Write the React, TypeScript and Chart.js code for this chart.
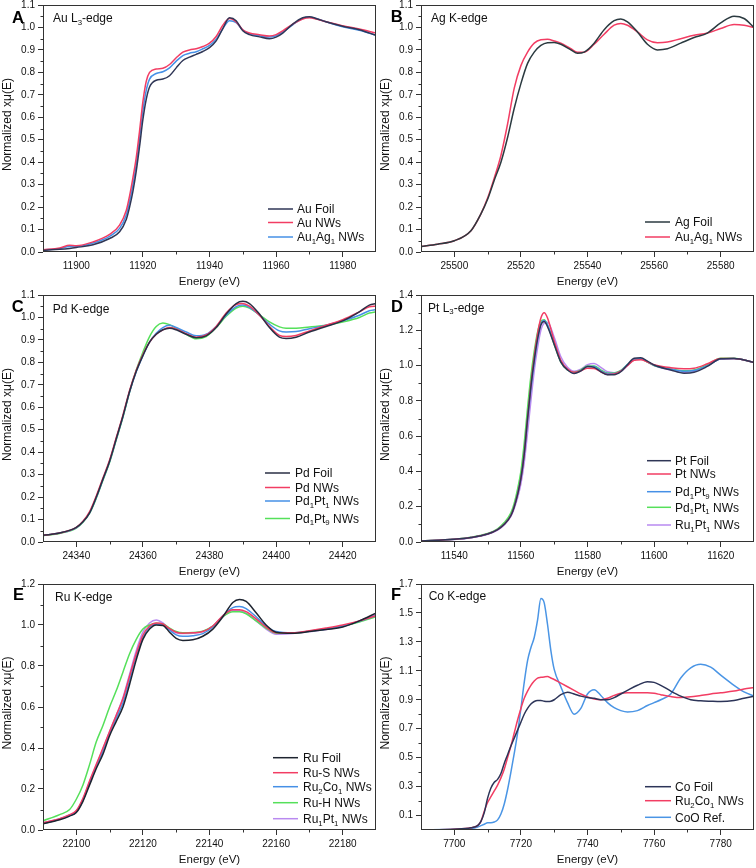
import React, { useEffect, useRef } from 'react';
import { Chart, registerables } from 'chart.js';

Chart.register(...registerables);

const FONT = '"Liberation Sans", Arial, Helvetica, sans-serif';

// ---------------- Panel A: Au L3-edge ----------------
const auEnergy = [11890, 11895, 11898, 11900, 11905, 11910, 11913, 11915, 11916, 11917, 11918, 11919, 11920, 11921, 11922, 11924, 11926, 11928, 11930, 11932, 11934, 11936, 11938, 11940, 11942, 11944, 11946, 11948, 11950, 11952, 11955, 11958, 11960, 11962, 11965, 11968, 11970, 11972, 11975, 11980, 11985, 11990];
const auFoil = [0.008, 0.012, 0.016, 0.02, 0.032, 0.06, 0.09, 0.145, 0.2, 0.27, 0.36, 0.47, 0.59, 0.68, 0.735, 0.765, 0.77, 0.785, 0.82, 0.853, 0.868, 0.88, 0.893, 0.91, 0.94, 0.995, 1.043, 1.03, 0.985, 0.968, 0.958, 0.95, 0.957, 0.975, 1.015, 1.043, 1.048, 1.04, 1.025, 1.005, 0.99, 0.965];
const auNWs = [0.01, 0.018, 0.03, 0.028, 0.045, 0.078, 0.12, 0.185, 0.25, 0.33, 0.42, 0.54, 0.67, 0.76, 0.8, 0.815, 0.818, 0.835, 0.865, 0.89, 0.9, 0.905, 0.915, 0.93, 0.96, 1.01, 1.04, 1.025, 0.99, 0.975, 0.968, 0.962, 0.968, 0.985, 1.015, 1.038, 1.043, 1.038, 1.025, 1.008, 0.993, 0.975];
const au1Ag1L3 = [0.009, 0.015, 0.025, 0.025, 0.04, 0.07, 0.105, 0.165, 0.225, 0.3, 0.39, 0.51, 0.63, 0.72, 0.77, 0.795, 0.803, 0.82, 0.85, 0.875, 0.885, 0.892, 0.905, 0.92, 0.948, 0.995, 1.03, 1.022, 0.988, 0.972, 0.963, 0.957, 0.963, 0.98, 1.012, 1.04, 1.045, 1.04, 1.025, 1.003, 0.988, 0.965];
const auXTicks = [11900, 11920, 11940, 11960, 11980];

// ---------------- Panel B: Ag K-edge ----------------
const agEnergy = [25490, 25495, 25500, 25505, 25508, 25510, 25512, 25514, 25516, 25518, 25520, 25522, 25524, 25526, 25528, 25530, 25532, 25535, 25537, 25539, 25542, 25545, 25548, 25550, 25552, 25555, 25558, 25561, 25564, 25568, 25572, 25576, 25580, 25584, 25587, 25590];
const agFoil = [0.025, 0.035, 0.05, 0.095, 0.17, 0.235, 0.32, 0.4, 0.51, 0.64, 0.75, 0.84, 0.89, 0.92, 0.932, 0.933, 0.925, 0.9, 0.885, 0.89, 0.93, 0.99, 1.03, 1.038, 1.025, 0.98, 0.925, 0.9, 0.905, 0.93, 0.955, 0.975, 1.02, 1.05, 1.04, 1.0];
const au1Ag1K = [0.025, 0.035, 0.05, 0.095, 0.17, 0.24, 0.33, 0.43, 0.57, 0.73, 0.83, 0.89, 0.93, 0.945, 0.947, 0.94, 0.93, 0.905, 0.89, 0.89, 0.925, 0.97, 1.01, 1.018, 1.01, 0.98, 0.945, 0.932, 0.935, 0.95, 0.965, 0.975, 0.995, 1.013, 1.01, 1.0];
const agXTicks = [25500, 25520, 25540, 25560, 25580];

// ---------------- Panel C: Pd K-edge ----------------
const pdEnergy = [24330, 24335, 24340, 24342, 24344, 24346, 24348, 24350, 24352, 24354, 24356, 24358, 24360, 24362, 24364, 24366, 24368, 24370, 24373, 24376, 24379, 24382, 24385, 24388, 24390, 24392, 24395, 24398, 24401, 24403, 24406, 24410, 24415, 24420, 24425, 24428, 24430];
const pdFoil = [0.03, 0.04, 0.065, 0.09, 0.13, 0.2, 0.28, 0.36, 0.46, 0.56, 0.67, 0.76, 0.83, 0.89, 0.925, 0.945, 0.952, 0.945, 0.925, 0.91, 0.918, 0.955, 1.015, 1.062, 1.072, 1.062, 1.015, 0.955, 0.912, 0.906, 0.912, 0.935, 0.96, 0.985, 1.025, 1.055, 1.062];
const pdNWs = [0.03, 0.04, 0.065, 0.092, 0.135, 0.205, 0.285, 0.365, 0.465, 0.565, 0.675, 0.765, 0.835, 0.89, 0.925, 0.945, 0.955, 0.948, 0.928, 0.912, 0.922, 0.96, 1.02, 1.058, 1.062, 1.05, 1.01, 0.96, 0.92, 0.915, 0.92, 0.94, 0.965, 0.99, 1.025, 1.048, 1.05];
const pd1Pt1Pd = [0.03, 0.04, 0.063, 0.09, 0.13, 0.198, 0.278, 0.358, 0.458, 0.558, 0.668, 0.758, 0.83, 0.89, 0.93, 0.955, 0.965, 0.955, 0.935, 0.918, 0.925, 0.96, 1.01, 1.048, 1.055, 1.045, 1.01, 0.97, 0.94, 0.935, 0.937, 0.95, 0.965, 0.985, 1.01, 1.03, 1.035];
const pd1Pt9Pd = [0.028, 0.038, 0.062, 0.088, 0.128, 0.195, 0.275, 0.355, 0.455, 0.555, 0.668, 0.765, 0.845, 0.915, 0.96, 0.975, 0.968, 0.952, 0.925, 0.905, 0.915, 0.955, 1.005, 1.042, 1.05, 1.042, 1.012, 0.98, 0.958, 0.952, 0.952, 0.958, 0.965, 0.98, 1.0, 1.02, 1.025];
const pdXTicks = [24340, 24360, 24380, 24400, 24420];

// ---------------- Panel D: Pt L3-edge ----------------
const ptEnergy = [11530, 11540, 11545, 11550, 11553, 11555, 11557, 11558, 11559, 11560, 11561, 11562, 11563, 11564, 11565, 11566, 11567, 11568, 11570, 11572, 11574, 11576, 11578, 11580, 11582, 11584, 11586, 11588, 11590, 11592, 11594, 11596, 11598, 11600, 11605, 11609, 11612, 11616, 11620, 11624, 11630];
const ptFoil = [0.005, 0.015, 0.025, 0.045, 0.07, 0.1, 0.15, 0.2, 0.27, 0.36, 0.5, 0.7, 0.88, 1.03, 1.15, 1.23, 1.25, 1.22, 1.12, 1.02, 0.975, 0.955, 0.97, 0.995, 0.99, 0.965, 0.948, 0.948, 0.965, 1.005, 1.042, 1.045, 1.025, 1.003, 0.975, 0.957, 0.962, 0.995, 1.038, 1.04, 1.018];
const ptNWs = [0.005, 0.015, 0.025, 0.045, 0.07, 0.1, 0.15, 0.2, 0.27, 0.36, 0.5, 0.7, 0.89, 1.05, 1.18, 1.27, 1.3, 1.27, 1.14, 1.03, 0.98, 0.962, 0.97, 0.985, 0.983, 0.965, 0.95, 0.952, 0.968, 1.0, 1.03, 1.033, 1.02, 1.005, 0.988, 0.982, 0.985, 1.01, 1.04, 1.04, 1.018];
const pd1Pt9Pt = [0.005, 0.015, 0.025, 0.045, 0.07, 0.1, 0.15, 0.2, 0.27, 0.36, 0.5, 0.69, 0.87, 1.02, 1.15, 1.235, 1.255, 1.23, 1.13, 1.025, 0.978, 0.96, 0.97, 0.995, 0.995, 0.97, 0.955, 0.955, 0.97, 1.005, 1.035, 1.04, 1.022, 1.002, 0.98, 0.968, 0.972, 1.0, 1.037, 1.04, 1.018];
const pd1Pt1Pt = [0.006, 0.016, 0.027, 0.048, 0.075, 0.11, 0.165, 0.22, 0.3, 0.4, 0.56, 0.76, 0.94, 1.08, 1.19, 1.25, 1.26, 1.23, 1.12, 1.02, 0.975, 0.962, 0.975, 0.998, 0.998, 0.975, 0.958, 0.958, 0.972, 1.005, 1.033, 1.038, 1.02, 1.0, 0.98, 0.97, 0.975, 1.005, 1.042, 1.042, 1.018];
const ru1Pt1Pt = [0.005, 0.014, 0.024, 0.044, 0.068, 0.097, 0.145, 0.19, 0.25, 0.33, 0.45, 0.62, 0.8, 0.97, 1.1, 1.2, 1.24, 1.245, 1.16, 1.05, 0.99, 0.968, 0.98, 1.005, 1.012, 0.99, 0.965, 0.96, 0.968, 1.0, 1.032, 1.037, 1.02, 1.0, 0.975, 0.962, 0.968, 1.0, 1.037, 1.04, 1.018];
const ptXTicks = [11540, 11560, 11580, 11600, 11620];

// ---------------- Panel E: Ru K-edge ----------------
const ruEnergy = [22090, 22095, 22098, 22100, 22102, 22104, 22106, 22108, 22110, 22112, 22114, 22116, 22118, 22120, 22122, 22124, 22126, 22128, 22130, 22132, 22135, 22138, 22141, 22144, 22147, 22149, 22151, 22154, 22157, 22160, 22165, 22170, 22175, 22180, 22185, 22190];
const ruFoil = [0.03, 0.05, 0.068, 0.085, 0.14, 0.22, 0.3, 0.37, 0.46, 0.53, 0.6, 0.71, 0.83, 0.93, 0.98, 1.0, 0.998, 0.965, 0.935, 0.925, 0.928, 0.945, 0.98, 1.04, 1.11, 1.125, 1.115, 1.06, 1.0, 0.965, 0.96, 0.968, 0.978, 0.99, 1.02, 1.058];
const ruSNWs = [0.035, 0.055, 0.075, 0.095, 0.155, 0.24, 0.32, 0.4, 0.48, 0.56, 0.64, 0.75, 0.86, 0.95, 0.995, 1.01, 1.005, 0.982, 0.965, 0.96, 0.962, 0.968, 0.995, 1.045, 1.075, 1.075, 1.065, 1.03, 0.99, 0.962, 0.962, 0.972, 0.985, 1.0, 1.02, 1.045];
const ru2Co1Ru = [0.032, 0.052, 0.07, 0.088, 0.145, 0.23, 0.31, 0.385, 0.47, 0.545, 0.62, 0.73, 0.845, 0.94, 0.99, 1.005, 1.0, 0.975, 0.952, 0.945, 0.948, 0.958, 0.99, 1.045, 1.085, 1.09, 1.08, 1.04, 0.995, 0.968, 0.962, 0.97, 0.98, 0.995, 1.018, 1.045];
const ruHNWs = [0.045, 0.075, 0.1, 0.15, 0.22, 0.32, 0.43, 0.51, 0.6, 0.68, 0.77, 0.86, 0.93, 0.98, 1.0, 1.008, 1.005, 0.985, 0.968, 0.962, 0.963, 0.97, 0.995, 1.04, 1.065, 1.065, 1.055, 1.02, 0.985, 0.96, 0.96, 0.97, 0.98, 0.995, 1.015, 1.04];
const ru1Pt1Ru = [0.035, 0.055, 0.073, 0.092, 0.15, 0.235, 0.315, 0.395, 0.48, 0.56, 0.645, 0.76, 0.875, 0.965, 1.01, 1.025, 1.01, 0.98, 0.962, 0.958, 0.96, 0.968, 0.995, 1.04, 1.072, 1.07, 1.058, 1.02, 0.98, 0.955, 0.958, 0.968, 0.978, 0.992, 1.02, 1.05];
const ruXTicks = [22100, 22120, 22140, 22160, 22180];

// ---------------- Panel F: Co K-edge ----------------
const coEnergy = [7690, 7700, 7705, 7707, 7708, 7709, 7710, 7711, 7712, 7713, 7714, 7715, 7716, 7717, 7718, 7719, 7720, 7721, 7722, 7723, 7724, 7725, 7726, 7727, 7728, 7729, 7730, 7732, 7734, 7736, 7738, 7740, 7742, 7744, 7746, 7748, 7750, 7752, 7755, 7758, 7760, 7762, 7765, 7768, 7771, 7774, 7777, 7780, 7784, 7787, 7790];
const coFoil = [0.0, 0.005, 0.015, 0.03, 0.06, 0.12, 0.22, 0.29, 0.33, 0.35, 0.39, 0.46, 0.52, 0.58, 0.635, 0.69, 0.745, 0.8, 0.84, 0.87, 0.888, 0.895, 0.895, 0.89, 0.888, 0.89, 0.9, 0.935, 0.952, 0.94, 0.925, 0.915, 0.91, 0.9, 0.9, 0.915, 0.94, 0.965, 1.0, 1.025, 1.02, 1.0, 0.96, 0.925, 0.9, 0.893, 0.89, 0.888, 0.895, 0.91, 0.925];
const ru2Co1Co = [0.0, 0.005, 0.015, 0.03, 0.06, 0.13, 0.19, 0.23, 0.27, 0.31, 0.36, 0.42, 0.5, 0.58, 0.67, 0.76, 0.84, 0.91, 0.96, 1.0, 1.03, 1.05, 1.055, 1.058, 1.06, 1.05, 1.04, 1.015, 0.99, 0.965, 0.94, 0.92, 0.905, 0.9, 0.91, 0.93, 0.945, 0.948, 0.948, 0.948, 0.945, 0.935, 0.922, 0.915, 0.92, 0.93, 0.94, 0.948, 0.96, 0.975, 0.985];
const cooRef = [0.0, 0.005, 0.01, 0.02, 0.03, 0.04, 0.05, 0.05, 0.055, 0.07, 0.11, 0.18, 0.28, 0.4, 0.53, 0.67, 0.84, 1.02, 1.17, 1.26, 1.33, 1.45, 1.6, 1.57, 1.42, 1.24, 1.11, 0.99, 0.88, 0.8, 0.84, 0.94, 0.97, 0.93, 0.88, 0.845, 0.825, 0.815, 0.825, 0.86, 0.88, 0.9, 0.94, 1.05, 1.12, 1.145, 1.125, 1.07, 1.0, 0.955, 0.925];
const coXTicks = [7700, 7720, 7740, 7760, 7780];

// ---------------- Y tick labels ----------------
const yTicks11 = [0.0, 0.1, 0.2, 0.3, 0.4, 0.5, 0.6, 0.7, 0.8, 0.9, 1.0, 1.1];
const yTicks14 = [0.0, 0.2, 0.4, 0.6, 0.8, 1.0, 1.2, 1.4];
const yTicks12 = [0.0, 0.2, 0.4, 0.6, 0.8, 1.0, 1.2];
const yTicks17 = [0.1, 0.3, 0.5, 0.7, 0.9, 1.1, 1.3, 1.5, 1.7];

const xTitle = 'Energy (eV)';
const yTitle = 'Normalized xμ(E)';

// ---------------- Styles ----------------
const NAVY = '#2f3656';
const RED = '#f23d63';
const BLUE = '#4690e6';
const GREEN = '#55e05a';
const PURPLE = '#b98af0';

type Series = { label: string; data: number[]; color: string };
type Panel = {
  letter: string;
  title: string;
  energy: number[];
  series: Series[];
  xMin: number; xMax: number; xTicks: number[]; xMinorStep: number;
  yMin: number; yMax: number; yTicks: number[]; yMinorStep: number; yMinorStart: number;
  // rowY: nominal row top; y: canvas top (canvas extends above so top labels are not clipped)
  box: { x: number; rowY: number; y: number; w: number; h: number; top: number };
  deco: { titleX: number; titleY: number; letterX: number; letterY: number; lx0: number; lx1: number; tx: number; rows: number[] };
};

const panels: Panel[] = [
  {
    letter: 'A', title: 'Au L₃-edge', energy: auEnergy,
    series: [
      { label: 'Au Foil', data: auFoil, color: NAVY },
      { label: 'Au NWs', data: auNWs, color: RED },
      { label: 'Au₁Ag₁ NWs', data: au1Ag1L3, color: BLUE },
    ],
    xMin: 11890, xMax: 11990, xTicks: auXTicks, xMinorStep: 10,
    yMin: 0, yMax: 1.1, yTicks: yTicks11, yMinorStep: 0.1, yMinorStart: 0.05,
    box: { x: 0, rowY: 0, y: 0, w: 378, h: 290, top: 5 },
    deco: { titleX: 53, titleY: 22, letterX: 12, letterY: 22.7, lx0: 268, lx1: 293, tx: 297, rows: [209, 222.5, 237] },
  },
  {
    letter: 'B', title: 'Ag K-edge', energy: agEnergy,
    series: [
      { label: 'Ag Foil', data: agFoil, color: '#2b3a40' },
      { label: 'Au₁Ag₁ NWs', data: au1Ag1K, color: RED },
    ],
    xMin: 25490, xMax: 25590, xTicks: agXTicks, xMinorStep: 10,
    yMin: 0, yMax: 1.1, yTicks: yTicks11, yMinorStep: 0.1, yMinorStart: 0.05,
    box: { x: 378, rowY: 0, y: 0, w: 378, h: 290, top: 5 },
    deco: { titleX: 53, titleY: 21.7, letterX: 12.7, letterY: 21.7, lx0: 267, lx1: 292, tx: 297, rows: [222, 237] },
  },
  {
    letter: 'C', title: 'Pd K-edge', energy: pdEnergy,
    series: [
      { label: 'Pd Foil', data: pdFoil, color: '#2a2f45' },
      { label: 'Pd NWs', data: pdNWs, color: RED },
      { label: 'Pd₁Pt₁ NWs', data: pd1Pt1Pd, color: BLUE },
      { label: 'Pd₁Pt₉ NWs', data: pd1Pt9Pd, color: GREEN },
    ],
    xMin: 24330, xMax: 24430, xTicks: pdXTicks, xMinorStep: 10,
    yMin: 0, yMax: 1.1, yTicks: yTicks11, yMinorStep: 0.1, yMinorStart: 0.05,
    box: { x: 0, rowY: 290, y: 282, w: 378, h: 298, top: 13 },
    deco: { titleX: 52.7, titleY: 22.5, letterX: 11.7, letterY: 22, lx0: 265, lx1: 290, tx: 295, rows: [183, 197.5, 211, 228.5] },
  },
  {
    letter: 'D', title: 'Pt L₃-edge', energy: ptEnergy,
    series: [
      { label: 'Pt Foil', data: ptFoil, color: NAVY },
      { label: 'Pt NWs', data: ptNWs, color: RED },
      { label: 'Pd₁Pt₉ NWs', data: pd1Pt9Pt, color: BLUE },
      { label: 'Pd₁Pt₁ NWs', data: pd1Pt1Pt, color: GREEN },
      { label: 'Ru₁Pt₁ NWs', data: ru1Pt1Pt, color: PURPLE },
    ],
    xMin: 11530, xMax: 11630, xTicks: ptXTicks, xMinorStep: 10,
    yMin: 0, yMax: 1.4, yTicks: yTicks14, yMinorStep: 0.2, yMinorStart: 0.1,
    box: { x: 378, rowY: 290, y: 282, w: 378, h: 298, top: 13 },
    deco: { titleX: 50, titleY: 21.7, letterX: 13, letterY: 22, lx0: 269, lx1: 293, tx: 297, rows: [170.7, 184, 201.7, 217.3, 235] },
  },
  {
    letter: 'E', title: 'Ru K-edge', energy: ruEnergy,
    series: [
      { label: 'Ru Foil', data: ruFoil, color: '#1e2430' },
      { label: 'Ru-S NWs', data: ruSNWs, color: RED },
      { label: 'Ru₂Co₁ NWs', data: ru2Co1Ru, color: BLUE },
      { label: 'Ru-H NWs', data: ruHNWs, color: GREEN },
      { label: 'Ru₁Pt₁ NWs', data: ru1Pt1Ru, color: PURPLE },
    ],
    xMin: 22090, xMax: 22190, xTicks: ruXTicks, xMinorStep: 10,
    yMin: 0, yMax: 1.2, yTicks: yTicks12, yMinorStep: 0.2, yMinorStart: 0.1,
    box: { x: 0, rowY: 580, y: 572, w: 378, h: 296, top: 12 },
    deco: { titleX: 55, titleY: 20.7, letterX: 13, letterY: 20, lx0: 273, lx1: 298, tx: 303, rows: [177.7, 192.7, 206.7, 222.7, 238.7] },
  },
  {
    letter: 'F', title: 'Co K-edge', energy: coEnergy,
    series: [
      { label: 'Co Foil', data: coFoil, color: '#2c3458' },
      { label: 'Ru₂Co₁ NWs', data: ru2Co1Co, color: RED },
      { label: 'CoO Ref.', data: cooRef, color: '#4a95e5' },
    ],
    xMin: 7690, xMax: 7790, xTicks: coXTicks, xMinorStep: 10,
    yMin: 0, yMax: 1.7, yTicks: yTicks17, yMinorStep: 0.2, yMinorStart: 0.2,
    box: { x: 378, rowY: 580, y: 572, w: 378, h: 296, top: 12 },
    deco: { titleX: 50.7, titleY: 20, letterX: 13, letterY: 19.5, lx0: 267, lx1: 293, tx: 297, rows: [206.7, 220.7, 237.3] },
  },
];

const SUB: Record<string, string> = { '₀': '0', '₁': '1', '₂': '2', '₃': '3', '₄': '4', '₅': '5', '₆': '6', '₇': '7', '₈': '8', '₉': '9' };

function drawRich(ctx: CanvasRenderingContext2D, text: string, x: number, y: number, size: number, color: string) {
  ctx.textBaseline = 'alphabetic';
  ctx.textAlign = 'left';
  ctx.fillStyle = color;
  let cx = x;
  let buf = '';
  const flush = () => {
    if (!buf) return;
    ctx.font = `${size}px ${FONT}`;
    ctx.fillText(buf, cx, y);
    cx += ctx.measureText(buf).width;
    buf = '';
  };
  for (const ch of text) {
    if (SUB[ch]) {
      flush();
      const s = size * 0.65;
      ctx.font = `${s}px ${FONT}`;
      ctx.fillText(SUB[ch], cx, y + size * 0.22);
      cx += ctx.measureText(SUB[ch]).width;
    } else {
      buf += ch;
    }
  }
  flush();
}

const decoPlugin = {
  id: 'deco',
  afterDraw(chart: any, _args: any, opts: any) {
    const p: Panel = opts.panel;
    if (!p) return;
    const { ctx, chartArea: a } = chart;
    const xs = chart.scales.x;
    const ys = chart.scales.y;
    ctx.save();
    // frame
    ctx.strokeStyle = '#333';
    ctx.lineWidth = 1;
    const l = Math.round(a.left) + 0.5;
    const r = Math.round(a.right) - 0.5;
    const t = Math.round(a.top) + 0.5;
    const b = Math.round(a.bottom) - 0.5;
    ctx.strokeRect(l, t, r - l, b - t);
    // minor ticks
    ctx.beginPath();
    for (let v = p.xMin + p.xMinorStep; v < p.xMax - 1e-9; v += p.xMinorStep) {
      if (p.xTicks.some((m) => Math.abs(m - v) < 1e-6)) continue;
      const px = Math.round(xs.getPixelForValue(v)) + 0.5;
      ctx.moveTo(px, b);
      ctx.lineTo(px, b + 3);
    }
    for (let v = p.yMinorStart; v < p.yMax - 1e-9; v += p.yMinorStep) {
      if (p.yTicks.some((m) => Math.abs(m - v) < 1e-6)) continue;
      const py = Math.round(ys.getPixelForValue(v)) + 0.5;
      ctx.moveTo(l, py);
      ctx.lineTo(l - 3, py);
    }
    ctx.stroke();
    // y axis title (drawn here to match the reference's slight upward offset)
    ctx.save();
    ctx.translate(7.5, (a.top + a.bottom) / 2 - 4);
    ctx.rotate(-Math.PI / 2);
    ctx.fillStyle = '#111';
    ctx.font = `12px ${FONT}`;
    ctx.textAlign = 'center';
    ctx.textBaseline = 'middle';
    ctx.fillText(yTitle, 0, 0);
    ctx.restore();
    // decorations positioned relative to the nominal row top
    ctx.translate(0, p.box.rowY - p.box.y);
    ctx.fillStyle = '#000';
    ctx.font = `bold 16.5px ${FONT}`;
    ctx.textBaseline = 'alphabetic';
    ctx.textAlign = 'left';
    ctx.fillText(p.letter, p.deco.letterX, p.deco.letterY);
    drawRich(ctx, p.title, p.deco.titleX, p.deco.titleY, 12, '#111');
    chart.data.datasets.forEach((ds: any, i: number) => {
      const y = p.deco.rows[i];
      ctx.strokeStyle = ds.borderColor;
      ctx.lineWidth = 1.5;
      ctx.beginPath();
      ctx.moveTo(p.deco.lx0, y);
      ctx.lineTo(p.deco.lx1, y);
      ctx.stroke();
      drawRich(ctx, ds.label, p.deco.tx, y + 4.3, 12, '#111');
    });
    ctx.restore();
  },
};

function PanelChart({ p }: { p: Panel }) {
  const ref = useRef<HTMLCanvasElement>(null);
  useEffect(() => {
    if (!ref.current) return;
    const chart = new Chart(ref.current, {
      type: 'line',
      data: {
        datasets: p.series.map((s) => ({
          label: s.label,
          data: p.energy.map((e, i) => ({ x: e, y: s.data[i] })),
          borderColor: s.color,
          backgroundColor: s.color,
          borderWidth: 1.5,
          pointRadius: 0,
          cubicInterpolationMode: 'monotone' as const,
          fill: false,
        })),
      },
      options: {
        responsive: false,
        animation: false,
        devicePixelRatio: 1,
        events: [],
        layout: { padding: { top: p.box.top, right: 2, left: 0, bottom: 0 } },
        plugins: {
          legend: { display: false },
          tooltip: { enabled: false },
          deco: { panel: p },
        } as any,
        scales: {
          x: {
            type: 'linear',
            min: p.xMin,
            max: p.xMax,
            afterBuildTicks: (s: any) => { s.ticks = p.xTicks.map((v) => ({ value: v })); },
            afterFit: (s: any) => { s.height = 38; s.paddingLeft = 0; s.paddingRight = 0; },
            ticks: {
              font: { family: FONT, size: 10 },
              color: '#111',
              padding: 3,
              maxRotation: 0,
              autoSkip: false,
              callback: (v: any) => String(v),
            },
            grid: { drawOnChartArea: false, drawTicks: true, tickLength: 5, color: '#333' },
            border: { display: false },
            title: {
              display: true,
              text: xTitle,
              font: { family: FONT, size: 11.5 },
              color: '#111',
              padding: { top: 0, bottom: 1 },
            },
          },
          y: {
            type: 'linear',
            min: p.yMin,
            max: p.yMax,
            afterBuildTicks: (s: any) => { s.ticks = p.yTicks.map((v) => ({ value: v })); },
            afterFit: (s: any) => { s.width = 43; s.paddingTop = 0; s.paddingBottom = 0; },
            ticks: {
              font: { family: FONT, size: 10 },
              color: '#111',
              padding: 3,
              autoSkip: false,
              callback: (v: any) => Number(v).toFixed(1),
            },
            grid: { drawOnChartArea: false, drawTicks: true, tickLength: 5, color: '#333' },
            border: { display: false },
            title: { display: false },
          },
        },
      },
      plugins: [decoPlugin],
    } as any);
    return () => chart.destroy();
  }, [p]);
  return (
    <canvas
      ref={ref}
      width={p.box.w}
      height={p.box.h}
      style={{ position: 'absolute', left: p.box.x, top: p.box.y, width: p.box.w, height: p.box.h }}
    />
  );
}

export default function App() {
  return (
    <div style={{ position: 'absolute', left: 0, top: 0, width: 756, height: 868, background: '#fff', overflow: 'hidden' }}>
      {panels.map((p) => (
        <PanelChart key={p.letter} p={p} />
      ))}
    </div>
  );
}
